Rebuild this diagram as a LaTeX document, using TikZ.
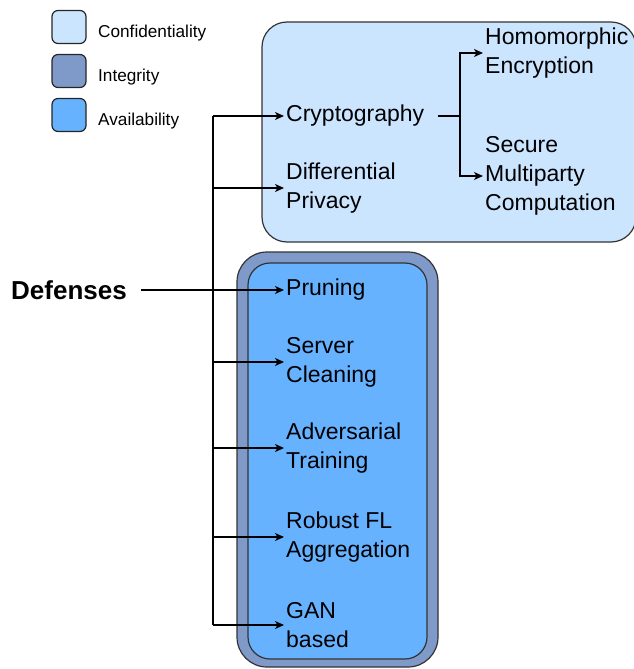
\documentclass[tikz,border=0pt]{standalone}
\usepackage{fontspec}
\setmainfont{Liberation Sans}
\usetikzlibrary{positioning,arrows.meta}
\definecolor{confid}{HTML}{CCE5FF}
\definecolor{integ}{HTML}{7F99C9}
\definecolor{avail}{HTML}{66B2FF}
\begin{document}
\begin{tikzpicture}[x=1pt,y=-1pt,
        LegendStyle/.style = { draw = black!85, line width = 1.2pt,
          rounded corners = 6pt, minimum width = 34pt,
          minimum height = 33pt, inner sep = 0pt },
        LegendText/.style = { anchor = west, inner sep = 0pt,
          font = \fontsize{17.2}{20}\selectfont },
        ItemStyle/.style = { anchor = west, inner xsep = 2pt,
          inner ysep = 0pt, align = left,
          font = \fontsize{23}{29}\selectfont },
        BoxStyle/.style = { draw = black!80, line width = 1.2pt },
        BranchStyle/.style = { line width = 1.3pt },
        EdgeStyle/.style = { BranchStyle,
          -{Stealth[length=9pt,width=8pt,inset=2.5pt]} }
      ]
      \useasboundingbox (0,0) rectangle (634,669);
      % legend
      \node[LegendStyle, fill = confid] (lc) at (69,27) {};
      \node[LegendStyle, fill = integ] (li) at (69,71) {};
      \node[LegendStyle, fill = avail] (la) at (69,115) {};
      \node[LegendText] (tc) at (98,33) {Confidentiality};
      \node[LegendText] (ti) at (98,77) {Integrity};
      \node[LegendText] (ta) at (98,121) {Availability};
      % groups
      \draw[BoxStyle, fill = confid, rounded corners = 25pt]
        (262,22) rectangle (636,242);
      \draw[BoxStyle, fill = integ, rounded corners = 30pt]
        (237,252) rectangle (438,667);
      \draw[BoxStyle, fill = avail, rounded corners = 22pt]
        (248,263) rectangle (427,659);
      % defenses
      \node[anchor = west, inner sep = 0pt,
        font = \fontsize{26}{30}\selectfont\bfseries] (def) at (11,290) {Defenses};
      \node[ItemStyle] (crypt) at (284,116) {Cryptography};
      \node[ItemStyle] (dp) at (284,188) {Differential\\Privacy};
      \node[ItemStyle] (he) at (483,53) {Homomorphic\\Encryption};
      \node[ItemStyle] (smc) at (483,176) {Secure\\Multiparty\\Computation};
      \node[ItemStyle] (prun) at (284,290) {Pruning};
      \node[ItemStyle] (sc) at (284,362) {Server\\Cleaning};
      \node[ItemStyle] (at) at (284,448) {Adversarial\\Training};
      \node[ItemStyle] (rfl) at (284,537) {Robust FL\\Aggregation};
      \node[ItemStyle] (gan) at (284,625) {GAN\\based};
      % connectors
      \coordinate (trunk) at (213,0);
      \coordinate (split) at (460,116);
      \draw[BranchStyle] (trunk |- crypt.west) -- (trunk |- gan.west);
      \foreach \n in {crypt,dp,sc,at,rfl,gan}
        \draw[EdgeStyle] (trunk |- \n.west) -- (\n.west);
      \draw[EdgeStyle, shorten <= 14pt] (def.east) -- (prun.west);
      \draw[BranchStyle, shorten <= 12pt] (crypt.east) -- (split);
      \draw[EdgeStyle] (split) |- (he.west);
      \draw[EdgeStyle] (split) |- (smc.west);
    \end{tikzpicture}
\end{document}
